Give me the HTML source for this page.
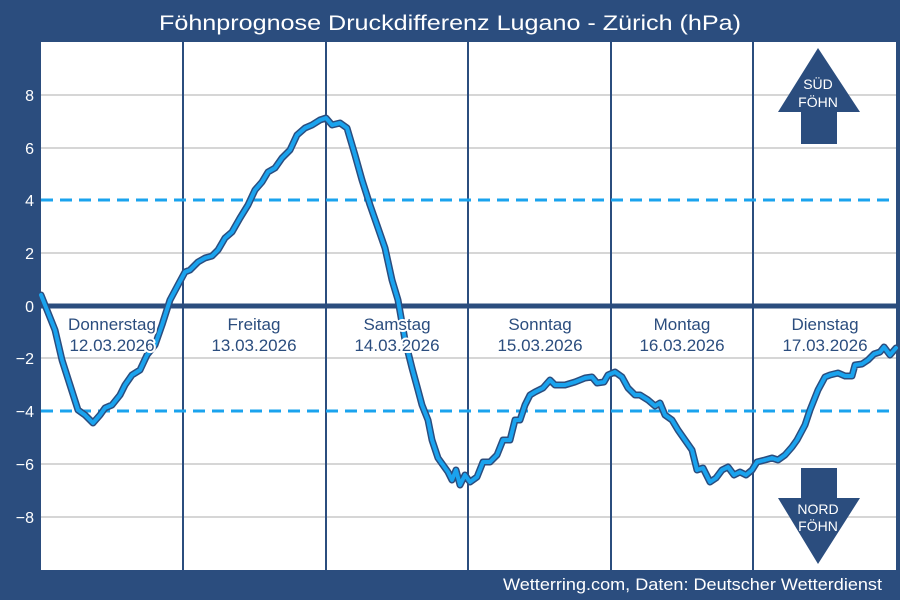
<!DOCTYPE html>
<html><head><meta charset="utf-8"><style>
html,body{margin:0;padding:0;background:#2b4d7e}
svg{display:block;font-family:"Liberation Sans","DejaVu Sans",sans-serif}
</style></head><body>
<svg width="900" height="600" viewBox="0 0 900 600">
<rect width="900" height="600" fill="#2b4d7e"/>
<text x="450" y="30" fill="#fff" font-size="21" text-anchor="middle" textLength="582" lengthAdjust="spacingAndGlyphs">Föhnprognose Druckdifferenz Lugano - Zürich (hPa)</text>
<rect x="41" y="42" width="855" height="528" fill="#fff"/>
<g stroke="#d6d6d6" stroke-width="2">
<line x1="41" x2="896" y1="95" y2="95"/><line x1="41" x2="896" y1="148" y2="148"/>
<line x1="41" x2="896" y1="253" y2="253"/><line x1="41" x2="896" y1="358" y2="358"/>
<line x1="41" x2="896" y1="464" y2="464"/><line x1="41" x2="896" y1="517" y2="517"/>
</g>
<g stroke="#2b4d7e" stroke-width="2">
<line x1="183" x2="183" y1="42" y2="570"/><line x1="326" x2="326" y1="42" y2="570"/>
<line x1="468" x2="468" y1="42" y2="570"/><line x1="611" x2="611" y1="42" y2="570"/>
<line x1="753" x2="753" y1="42" y2="570"/>
</g>
<line x1="41" x2="896" y1="306" y2="306" stroke="#2b4d7e" stroke-width="5"/>
<g stroke="#1aa3ee" stroke-width="3" stroke-dasharray="12,7">
<line x1="41" x2="896" y1="200" y2="200"/><line x1="41" x2="896" y1="411" y2="411"/>
</g>
<g fill="#fff" font-size="16" text-anchor="end">
<text x="34" y="101">8</text><text x="34" y="154">6</text><text x="34" y="206">4</text>
<text x="34" y="259">2</text><text x="34" y="312">0</text><text x="34" y="364">−2</text>
<text x="34" y="417">−4</text><text x="34" y="470">−6</text><text x="34" y="523">−8</text>
</g>
<polygon points="818,48 860,112 837,112 837,144 801,144 801,112 778,112" fill="#2b4d7e"/>
<polygon points="818,564 860,498 837,498 837,468 801,468 801,498 778,498" fill="#2b4d7e"/>
<g fill="#fff" font-size="14" text-anchor="middle">
<text x="818" y="89">SÜD</text><text x="818" y="107">FÖHN</text>
<text x="818" y="514">NORD</text><text x="818" y="531">FÖHN</text>
</g>
<polyline fill="none" stroke-linejoin="round" stroke-linecap="round" stroke="#2b4d7e" stroke-width="7" points="41,295 47,310 55,330 62,360 70,385 78,410 85,415 93,423 100,415 105,408 112,405 120,395 125,385 132,375 140,370 147,355 155,345 162,325 170,300 178,285 185,272 190,270 198,262 205,258 212,256 218,250 225,238 232,232 240,218 248,205 255,190 262,182 268,172 275,168 282,158 290,150 297,135 305,128 312,125 320,120 326,118 332,125 340,123 347,128 355,155 362,180 370,205 377,225 385,248 392,280 398,300 405,340 412,368 418,390 422,405 428,420 432,440 438,458 443,465 448,472 452,480 456,470 460,485 465,475 470,482 477,477 483,462 490,462 497,455 503,440 510,440 515,420 520,420 525,405 530,395 535,392 543,388 550,380 555,385 565,385 575,382 585,378 592,377 597,383 604,382 608,375 615,372 622,377 628,388 635,395 640,395 648,400 655,406 660,403 665,415 672,420 678,430 685,440 692,450 697,470 703,468 710,482 716,478 722,470 728,467 734,475 740,472 746,475 752,470 757,462 765,460 772,458 778,460 785,455 792,447 797,440 805,425 810,410 818,390 825,377 830,375 838,373 845,376 852,376 855,365 862,364 868,360 874,354 880,352 884,347 890,355 896,348"/>
<polyline fill="none" stroke-linejoin="round" stroke-linecap="round" stroke="#1aa3ee" stroke-width="4" points="41,295 47,310 55,330 62,360 70,385 78,410 85,415 93,423 100,415 105,408 112,405 120,395 125,385 132,375 140,370 147,355 155,345 162,325 170,300 178,285 185,272 190,270 198,262 205,258 212,256 218,250 225,238 232,232 240,218 248,205 255,190 262,182 268,172 275,168 282,158 290,150 297,135 305,128 312,125 320,120 326,118 332,125 340,123 347,128 355,155 362,180 370,205 377,225 385,248 392,280 398,300 405,340 412,368 418,390 422,405 428,420 432,440 438,458 443,465 448,472 452,480 456,470 460,485 465,475 470,482 477,477 483,462 490,462 497,455 503,440 510,440 515,420 520,420 525,405 530,395 535,392 543,388 550,380 555,385 565,385 575,382 585,378 592,377 597,383 604,382 608,375 615,372 622,377 628,388 635,395 640,395 648,400 655,406 660,403 665,415 672,420 678,430 685,440 692,450 697,470 703,468 710,482 716,478 722,470 728,467 734,475 740,472 746,475 752,470 757,462 765,460 772,458 778,460 785,455 792,447 797,440 805,425 810,410 818,390 825,377 830,375 838,373 845,376 852,376 855,365 862,364 868,360 874,354 880,352 884,347 890,355 896,348"/>
<g font-size="17" text-anchor="middle" fill="#2b4d7e" stroke="#fff" stroke-width="4" paint-order="stroke" stroke-linejoin="round">
<text x="112" y="330">Donnerstag</text><text x="112" y="351">12.03.2026</text>
<text x="254" y="330">Freitag</text><text x="254" y="351">13.03.2026</text>
<text x="397" y="330">Samstag</text><text x="397" y="351">14.03.2026</text>
<text x="540" y="330">Sonntag</text><text x="540" y="351">15.03.2026</text>
<text x="682" y="330">Montag</text><text x="682" y="351">16.03.2026</text>
<text x="825" y="330">Dienstag</text><text x="825" y="351">17.03.2026</text>
</g>
<text x="882" y="590" fill="#fff" font-size="17" text-anchor="end" textLength="379" lengthAdjust="spacingAndGlyphs">Wetterring.com, Daten: Deutscher Wetterdienst</text>
</svg>
</body></html>
